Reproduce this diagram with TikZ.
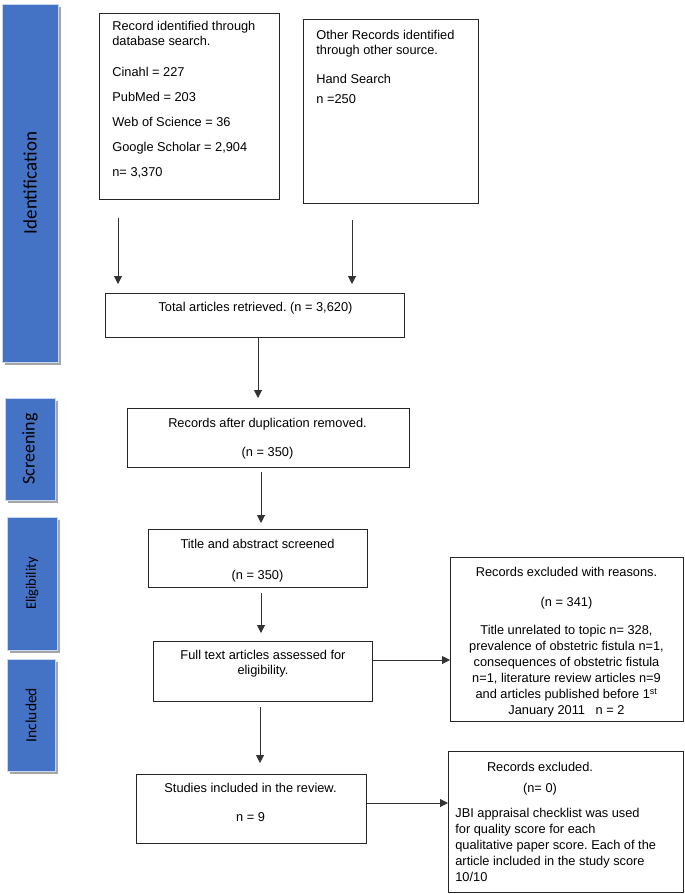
\documentclass[tikz,border=0pt]{standalone}
\usepackage{fontspec}
\setmainfont{Liberation Sans}
\newfontfamily\stagefont{Carlito}
\usetikzlibrary{arrows.meta,shadows}
\frenchspacing

\definecolor{stageblue}{RGB}{68,114,196}
\newcommand{\boxfont}{\fontsize{12.8}{16}\selectfont}

\tikzset{every picture/.style={line width=0.75pt}}
\tikzset{
  box/.style={draw=black!85, line width=1.3pt, inner sep=0pt, anchor=north west},
  txt/.style={inner sep=0pt, font=\boxfont},
  stage/.style={fill=stageblue, draw=white!70!stageblue, line width=0.8pt, inner sep=0pt,
    drop shadow={shadow xshift=3pt, shadow yshift=-3pt, fill=black!35, opacity=1}},
  arr/.style={draw=black!80, line width=1pt, -{Triangle[length=8pt,width=8pt]}}
}

\begin{document}
\begin{tikzpicture}[x=1pt,y=1pt,yscale=-1]
	\useasboundingbox (0,0) rectangle (685,894);
	
	%Shape: stage bars on the left
	\draw (30,183) node (ident) [stage, minimum width=56pt, minimum height=358pt] {\rotatebox{90}{\stagefont\fontsize{19}{19}\selectfont Identification}};
	\draw (30,449) node (screen) [stage, minimum width=50pt, minimum height=102pt] {\rotatebox{90}{\stagefont\fontsize{18}{18}\selectfont Screening}};
	\draw (32,583.5) node (elig) [stage, minimum width=50pt, minimum height=133pt] {\rotatebox{90}{\stagefont\fontsize{14.5}{14.5}\selectfont Eligibility}};
	\draw (31,715) node (incl) [stage, minimum width=48pt, minimum height=112pt] {\rotatebox{90}{\stagefont\fontsize{15.5}{15.5}\selectfont Included}};
	
	%Shape: Rectangle boxes
	\draw (99,13) node (db) [box, minimum width=180pt, minimum height=186pt] {};
	\draw (303,19) node (other) [box, minimum width=175pt, minimum height=184pt] {};
	\draw (105,293) node (total) [box, minimum width=299pt, minimum height=44pt] {};
	\draw (127,408) node (dedup) [box, minimum width=282pt, minimum height=59pt] {};
	\draw (148,529) node (screened) [box, minimum width=219pt, minimum height=58pt] {};
	\draw (153,641) node (fulltext) [box, minimum width=219pt, minimum height=60pt] {};
	\draw (450,557) node (excl) [box, minimum width=233pt, minimum height=164pt] {};
	\draw (136,774) node (studies) [box, minimum width=230pt, minimum height=69pt] {};
	\draw (448,751) node (excl2) [box, minimum width=235pt, minimum height=141pt] {};
	
	% Text Node
	\draw (112,21.3) node (dbtxt) [txt, anchor=north west, align=left] {Record identified through\\[-1pt] database search.\\[15pt] Cinahl = 227\\[9pt] PubMed = 203\\[9pt] Web of Science = 36\\[9pt] Google Scholar = 2,904\\[9pt] n= 3,370};
	% Text Node
	\draw (316,30.3) node (othertxt) [txt, anchor=north west, align=left] {Other Records identified\\[-1pt] through other source.\\[13pt] Hand Search\\[4pt] n =250};
	% Text Node
	\draw (255.5,302.3) node (totaltxt) [txt, anchor=north] {Total articles retrieved. (n = 3,620)};
	% Text Node
	\draw (267.5,418.3) node (deduptxt) [txt, anchor=north, align=center] {Records after duplication removed.\\[13pt] (n = 350)};
	% Text Node
	\draw (257.5,539.3) node (screenedtxt) [txt, anchor=north, align=center] {Title and abstract screened\\[15pt] (n = 350)};
	% Text Node
	\draw (263,650.3) node (fulltexttxt) [txt, anchor=north, align=center] {Full text articles assessed for\\[-1pt] eligibility.};
	% Text Node
	\draw (566.5,567.3) node (excltxt) [txt, anchor=north, align=center] {Records excluded with reasons.\\[14pt] (n = 341)\\[12pt] Title unrelated to topic n= 328,\\ prevalence of obstetric fistula n=1,\\ consequences of obstetric fistula\\ n=1, literature review articles n=9\\ and articles published before 1\textsuperscript{st}\\ January 2011 \ \ n = 2};
	% Text Node
	\draw (250.5,783.3) node (studiestxt) [txt, anchor=north, align=center] {Studies included in the review.\\[13pt] n = 9};
	% Text Node
	\draw (540,761.8) node (excl2head) [txt, anchor=north, align=center] {Records excluded.\\[5pt] (n= 0)};
	% Text Node
	\draw (455,808.3) node (excl2body) [txt, anchor=north west, align=left] {JBI appraisal checklist was used\\ for quality score for each\\ qualitative paper score. Each of the\\ article included in the study score\\ 10/10};
	
	%Straight Lines: arrows
	\coordinate (ax1) at (118,0);
	\coordinate (ax2) at (352,0);
	\coordinate (ax3) at (258,0);
	\coordinate (ax4) at (261,0);
	\coordinate (ax5) at (260,0);
	\coordinate (ay1) at (0,660);
	\coordinate (ay2) at (0,803);
	\draw [arr, shorten <=18pt, shorten >=9pt] (db.south -| ax1) -- (total.north -| ax1);
	\draw [arr, shorten <=16pt, shorten >=9pt] (other.south -| ax2) -- (total.north -| ax2);
	\draw [arr, shorten >=10pt] (total.south -| ax3) -- (dedup.north -| ax3);
	\draw [arr, shorten <=4pt, shorten >=6pt] (dedup.south -| ax4) -- (screened.north -| ax4);
	\draw [arr, shorten <=5pt, shorten >=8pt] (screened.south -| ax4) -- (fulltext.north -| ax4);
	\draw [arr, shorten <=5pt, shorten >=11pt] (fulltext.south -| ax5) -- (studies.north -| ax5);
	\draw [arr] (fulltext.east |- ay1) -- (excl.west |- ay1);
	\draw [arr] (studies.east |- ay2) -- (excl2.west |- ay2);
	
\end{tikzpicture}
\end{document}
